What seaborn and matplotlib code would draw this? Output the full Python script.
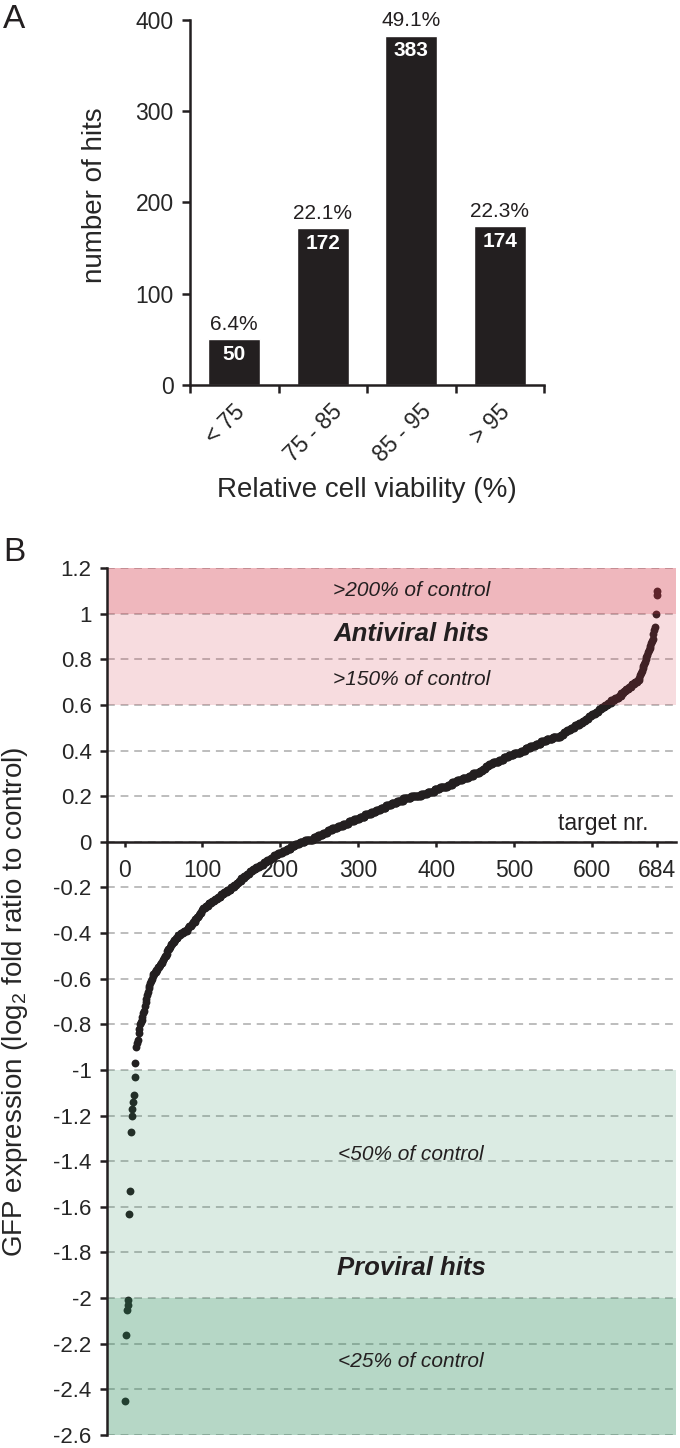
import numpy as np
import pandas as pd
import matplotlib
matplotlib.use("Agg")
import matplotlib.pyplot as plt
import matplotlib.transforms as mtransforms
import seaborn as sns

# ---------------- data: panel A ----------------
viability_bins = ["< 75", "75 - 85", "85 - 95", "> 95"]
hit_counts = [50, 172, 383, 174]
hit_percents = ["6.4%", "22.1%", "49.1%", "22.3%"]
hits_ticks = [0, 100, 200, 300, 400]

# ---------------- data: panel B (sorted log2 GFP ratios, 684 targets) ----------------
gfp_log2_sorted = [
    -2.45, -2.16, -2.05, -2.03, -2.01, -1.63, -1.53, -1.27, -1.20, -1.17, -1.14, -1.11, -1.03, -0.97,
    -0.90, -0.88, -0.87, -0.84, -0.82, -0.80, -0.79, -0.78, -0.77, -0.75, -0.74, -0.72, -0.70, -0.69, -0.67, -0.66,
    -0.64, -0.63, -0.62, -0.61, -0.60, -0.59, -0.58, -0.58, -0.57, -0.57,
    -0.56, -0.56, -0.55, -0.55, -0.54, -0.54, -0.53, -0.53, -0.52, -0.52,
    -0.51, -0.50, -0.50, -0.49, -0.48, -0.47, -0.47, -0.46, -0.46, -0.45,
    -0.45, -0.44, -0.44, -0.43, -0.43, -0.42, -0.42, -0.42, -0.41, -0.41,
    -0.41, -0.40, -0.40, -0.40, -0.40, -0.39, -0.39, -0.39, -0.39, -0.39,
    -0.38, -0.38, -0.37, -0.37, -0.37, -0.36, -0.36, -0.35, -0.35, -0.35,
    -0.34, -0.34, -0.33, -0.33, -0.32, -0.32, -0.31, -0.31, -0.30, -0.30,
    -0.29, -0.29, -0.29, -0.28, -0.28, -0.28, -0.28, -0.27, -0.27, -0.27,
    -0.27, -0.26, -0.26, -0.26, -0.26, -0.25, -0.25, -0.25, -0.25, -0.24,
    -0.24, -0.24, -0.24, -0.23, -0.23, -0.23, -0.23, -0.22, -0.22, -0.22,
    -0.22, -0.21, -0.21, -0.21, -0.21, -0.21, -0.20, -0.20, -0.20, -0.20,
    -0.19, -0.19, -0.19, -0.18, -0.18, -0.18, -0.17, -0.17, -0.17, -0.16,
    -0.16, -0.16, -0.16, -0.15, -0.15, -0.15, -0.14, -0.14, -0.14, -0.14,
    -0.13, -0.13, -0.13, -0.13, -0.12, -0.12, -0.12, -0.12, -0.11, -0.11,
    -0.11, -0.11, -0.11, -0.10, -0.10, -0.10, -0.10, -0.10, -0.09, -0.09,
    -0.09, -0.09, -0.08, -0.08, -0.08, -0.08, -0.08, -0.07, -0.07, -0.07,
    -0.07, -0.06, -0.06, -0.06, -0.06, -0.06, -0.05, -0.05, -0.05, -0.05,
    -0.05, -0.05, -0.04, -0.04, -0.04, -0.04, -0.04, -0.03, -0.03, -0.03,
    -0.03, -0.03, -0.03, -0.02, -0.02, -0.02, -0.02, -0.02, -0.01, -0.01,
    -0.01, -0.01, -0.01, -0.01, 0.00, 0.00, 0.00, 0.00, 0.00, 0.00,
    0.00, 0.01, 0.01, 0.01, 0.01, 0.01, 0.01, 0.01, 0.01, 0.01,
    0.01, 0.01, 0.02, 0.02, 0.02, 0.02, 0.02, 0.02, 0.03, 0.03,
    0.03, 0.03, 0.03, 0.03, 0.04, 0.04, 0.04, 0.04, 0.04, 0.04,
    0.05, 0.05, 0.05, 0.05, 0.05, 0.05, 0.06, 0.06, 0.06, 0.06,
    0.06, 0.06, 0.06, 0.07, 0.07, 0.07, 0.07, 0.07, 0.07, 0.07,
    0.08, 0.08, 0.08, 0.08, 0.08, 0.08, 0.08, 0.09, 0.09, 0.09,
    0.09, 0.09, 0.09, 0.09, 0.10, 0.10, 0.10, 0.10, 0.10, 0.10,
    0.10, 0.11, 0.11, 0.11, 0.11, 0.11, 0.11, 0.11, 0.12, 0.12,
    0.12, 0.12, 0.12, 0.12, 0.12, 0.12, 0.13, 0.13, 0.13, 0.13,
    0.13, 0.13, 0.14, 0.14, 0.14, 0.14, 0.14, 0.14, 0.15, 0.15,
    0.15, 0.15, 0.15, 0.15, 0.15, 0.16, 0.16, 0.16, 0.16, 0.16,
    0.16, 0.16, 0.17, 0.17, 0.17, 0.17, 0.17, 0.17, 0.17, 0.18,
    0.18, 0.18, 0.18, 0.18, 0.18, 0.18, 0.18, 0.19, 0.19, 0.19,
    0.19, 0.19, 0.19, 0.19, 0.19, 0.19, 0.19, 0.20, 0.20, 0.20,
    0.20, 0.20, 0.20, 0.20, 0.20, 0.20, 0.20, 0.20, 0.20, 0.20,
    0.21, 0.21, 0.21, 0.21, 0.21, 0.21, 0.21, 0.21, 0.22, 0.22,
    0.22, 0.22, 0.22, 0.22, 0.22, 0.22, 0.22, 0.23, 0.23, 0.23,
    0.23, 0.23, 0.23, 0.23, 0.24, 0.24, 0.24, 0.24, 0.24, 0.24,
    0.24, 0.24, 0.24, 0.24, 0.25, 0.25, 0.25, 0.25, 0.25, 0.25,
    0.26, 0.26, 0.26, 0.26, 0.26, 0.26, 0.27, 0.27, 0.27, 0.27,
    0.27, 0.27, 0.27, 0.28, 0.28, 0.28, 0.28, 0.28, 0.28, 0.28,
    0.28, 0.29, 0.29, 0.29, 0.29, 0.29, 0.29, 0.30, 0.30, 0.30,
    0.30, 0.30, 0.30, 0.30, 0.30, 0.31, 0.31, 0.31, 0.31, 0.32,
    0.32, 0.32, 0.32, 0.33, 0.33, 0.33, 0.33, 0.34, 0.34, 0.34,
    0.34, 0.34, 0.35, 0.35, 0.35, 0.35, 0.35, 0.35, 0.35, 0.35,
    0.36, 0.36, 0.36, 0.36, 0.36, 0.36, 0.37, 0.37, 0.37, 0.37,
    0.37, 0.37, 0.38, 0.38, 0.38, 0.38, 0.38, 0.38, 0.38, 0.39,
    0.39, 0.39, 0.39, 0.39, 0.39, 0.39, 0.39, 0.39, 0.40, 0.40,
    0.40, 0.40, 0.40, 0.40, 0.41, 0.41, 0.41, 0.41, 0.41, 0.41,
    0.42, 0.42, 0.42, 0.42, 0.42, 0.42, 0.42, 0.43, 0.43, 0.43,
    0.43, 0.43, 0.43, 0.43, 0.44, 0.44, 0.44, 0.44, 0.44, 0.44,
    0.44, 0.45, 0.45, 0.45, 0.45, 0.45, 0.45, 0.45, 0.45, 0.46,
    0.46, 0.46, 0.46, 0.46, 0.46, 0.46, 0.46, 0.46, 0.46, 0.47,
    0.47, 0.47, 0.47, 0.48, 0.48, 0.48, 0.48, 0.49, 0.49, 0.49,
    0.49, 0.49, 0.50, 0.50, 0.50, 0.50, 0.50, 0.51, 0.51, 0.51,
    0.51, 0.51, 0.51, 0.52, 0.52, 0.52, 0.52, 0.53, 0.53, 0.53,
    0.53, 0.54, 0.54, 0.54, 0.54, 0.55, 0.55, 0.55, 0.55, 0.56,
    0.56, 0.56, 0.56, 0.56, 0.57, 0.57, 0.57, 0.57, 0.58, 0.58,
    0.58, 0.58, 0.59, 0.59, 0.59, 0.59, 0.60, 0.60, 0.60, 0.60,
    0.61, 0.61, 0.61, 0.61, 0.62, 0.62, 0.62, 0.62, 0.62, 0.63,
    0.63, 0.63, 0.63, 0.63, 0.64, 0.64, 0.64, 0.65, 0.65, 0.65,
    0.66, 0.66, 0.66, 0.67, 0.67, 0.67, 0.67, 0.68, 0.68, 0.68,
    0.69, 0.69, 0.69, 0.69, 0.70, 0.70, 0.70, 0.70, 0.71, 0.71,
    0.72, 0.73, 0.74, 0.75, 0.76, 0.77, 0.78, 0.79, 0.80, 0.81,
    0.82, 0.83, 0.84, 0.85, 0.86, 0.87, 0.88, 0.89, 0.91, 0.93,
    0.94, 1.00, 1.08, 1.10,
]
target_ticks = [0, 100, 200, 300, 400, 500, 600, 684]
target_tick_labels = ["0", "100", "200", "300", "400", "500", "600", "684"]
gfp_ticks = [1.2, 1.0, 0.8, 0.6, 0.4, 0.2, 0.0, -0.2, -0.4, -0.6, -0.8, -1.0,
             -1.2, -1.4, -1.6, -1.8, -2.0, -2.2, -2.4, -2.6]
gfp_tick_labels = ["1.2", "1", "0.8", "0.6", "0.4", "0.2", "0", "-0.2", "-0.4", "-0.6",
                   "-0.8", "-1", "-1.2", "-1.4", "-1.6", "-1.8", "-2", "-2.2", "-2.4", "-2.6"]

# ---------------- style ----------------
sns.set_theme(style="ticks")
plt.rcParams["font.family"] = ["Liberation Sans", "DejaVu Sans"]
plt.rcParams["mathtext.fontset"] = "custom"
plt.rcParams["mathtext.rm"] = "Liberation Sans"
plt.rcParams["mathtext.it"] = "Liberation Sans:italic"
plt.rcParams["mathtext.bf"] = "Liberation Sans:bold"

INK = "#231f20"
W, H = 680, 1448
fig = plt.figure(figsize=(W / 100, H / 100), dpi=100)
fig.patch.set_facecolor("white")

def px_axes(left, top, right, bottom):
    return [left / W, 1 - bottom / H, (right - left) / W, (bottom - top) / H]

TICK_FS = 16.5

# ================= Panel A =================
axA = fig.add_axes(px_axes(190, 20, 544, 385))
dfA = pd.DataFrame({"bin": viability_bins, "hits": hit_counts})
sns.barplot(data=dfA, x="bin", y="hits", order=viability_bins, color=INK,
            saturation=1, width=0.59, ax=axA)
axA.set_xlim(-0.5, len(viability_bins) - 0.5)
axA.set_ylim(hits_ticks[0], hits_ticks[-1])
axA.set_yticks(hits_ticks)
bounds = np.arange(len(viability_bins) + 1) - 0.5
axA.set_xticks(bounds, labels=[""] * len(bounds))
axA.set_xticks(np.arange(len(viability_bins)), minor=True)
axA.set_xticklabels(viability_bins, minor=True, rotation=45, ha="center", va="top")
axA.tick_params(axis="x", which="minor", length=0, pad=11, labelsize=TICK_FS)
axA.tick_params(axis="x", which="major", length=5.8, width=1.8, direction="out", color=INK)
axA.tick_params(axis="y", length=5.8, width=1.8, direction="out", color=INK,
                labelsize=TICK_FS, pad=6)
shift = mtransforms.ScaledTranslation(-9 / 100, 0, fig.dpi_scale_trans)
for lab in axA.get_xticklabels(minor=True):
    lab.set_transform(lab.get_transform() + shift)
sns.despine(ax=axA)
for s in ["left", "bottom"]:
    axA.spines[s].set_linewidth(1.8)
    axA.spines[s].set_color(INK)
axA.set_ylabel("number of hits", fontsize=20)
axA.yaxis.set_label_coords(-0.232, 0.52)
axA.set_xlabel("Relative cell viability (%)", fontsize=20)
axA.xaxis.set_label_coords(0.5, -0.252)
for i, (c, p) in enumerate(zip(hit_counts, hit_percents)):
    axA.annotate(p, (i, c), xytext=(0, 10.5), textcoords="offset points",
                 ha="center", va="center", fontsize=15, color=INK)
    axA.annotate(str(c), (i, c), xytext=(0, -11), textcoords="offset points",
                 ha="center", va="center", fontsize=15, color="white", fontweight="bold")

# ================= Panel B =================
axB = fig.add_axes(px_axes(107, 568, 676, 1435))
target_idx = np.arange(1, len(gfp_log2_sorted) + 1)
dfB = pd.DataFrame({"target": target_idx, "gfp": gfp_log2_sorted})
sns.scatterplot(data=dfB, x="target", y="gfp", s=32, color=INK, linewidth=0,
                ax=axB, zorder=2, legend=False)
axB.set_xlim(-22.5, 708)
axB.set_ylim(gfp_ticks[-1], gfp_ticks[0])
axB.set_yticks(gfp_ticks, labels=gfp_tick_labels)
axB.set_xticks(target_ticks, labels=target_tick_labels)
axB.set_axisbelow(True)
axB.yaxis.grid(True, linestyle=(0, (4, 3)), color="#bdbdbd", linewidth=1.4)
axB.xaxis.grid(False)

rose = (212 / 255, 48 / 255, 66 / 255)
sage = (36 / 255, 136 / 255, 86 / 255)
axB.axhspan(0.6, 1.2, color=rose, alpha=0.165, lw=0, zorder=3)
axB.axhspan(1.0, 1.2, color=rose, alpha=0.21, lw=0, zorder=3)
axB.axhspan(-2.6, -1.0, color=sage, alpha=0.16, lw=0, zorder=3)
axB.axhspan(-2.6, -2.0, color=sage, alpha=0.2, lw=0, zorder=3)

for s in ["top", "right"]:
    axB.spines[s].set_visible(False)
axB.spines["bottom"].set_position(("data", 0))
for s in ["left", "bottom"]:
    axB.spines[s].set_linewidth(1.8)
    axB.spines[s].set_color(INK)
    axB.spines[s].set_zorder(5)
axB.tick_params(axis="y", length=5, width=1.8, direction="out", color=INK,
                labelsize=16, pad=6)
axB.tick_params(axis="x", length=3.6, width=1.8, direction="out", color=INK,
                labelsize=TICK_FS, pad=9)
axB.set_xlabel("")
axB.set_ylabel("GFP expression (log$_2$ fold ratio to control)", fontsize=20)
axB.yaxis.set_label_coords(-0.135, 0.5)

tx = 368
axB.text(tx, 1.1, ">200% of control", style="italic", ha="center", va="center", fontsize=15, color=INK, zorder=4)
axB.text(tx, 0.91, "Antiviral hits", style="italic", fontweight="bold", ha="center", va="center", fontsize=18.5, color=INK, zorder=4)
axB.text(tx, 0.71, ">150% of control", style="italic", ha="center", va="center", fontsize=15, color=INK, zorder=4)
axB.text(673, 0.05, "target nr.", ha="right", va="baseline", fontsize=16.5, color=INK, zorder=4)
axB.text(tx, -1.37, "<50% of control", style="italic", ha="center", va="center", fontsize=15, color=INK, zorder=4)
axB.text(tx, -1.87, "Proviral hits", style="italic", fontweight="bold", ha="center", va="center", fontsize=18.5, color=INK, zorder=4)
axB.text(tx, -2.28, "<25% of control", style="italic", ha="center", va="center", fontsize=15, color=INK, zorder=4)

fig.text(14 / W, 1 - 19 / H, "A", fontsize=24, ha="center", va="center", color=INK)
fig.text(14 / W, 1 - 553 / H, "B", fontsize=24, ha="center", va="center", color=INK)

fig.savefig("out.png", dpi=100, facecolor="white")
